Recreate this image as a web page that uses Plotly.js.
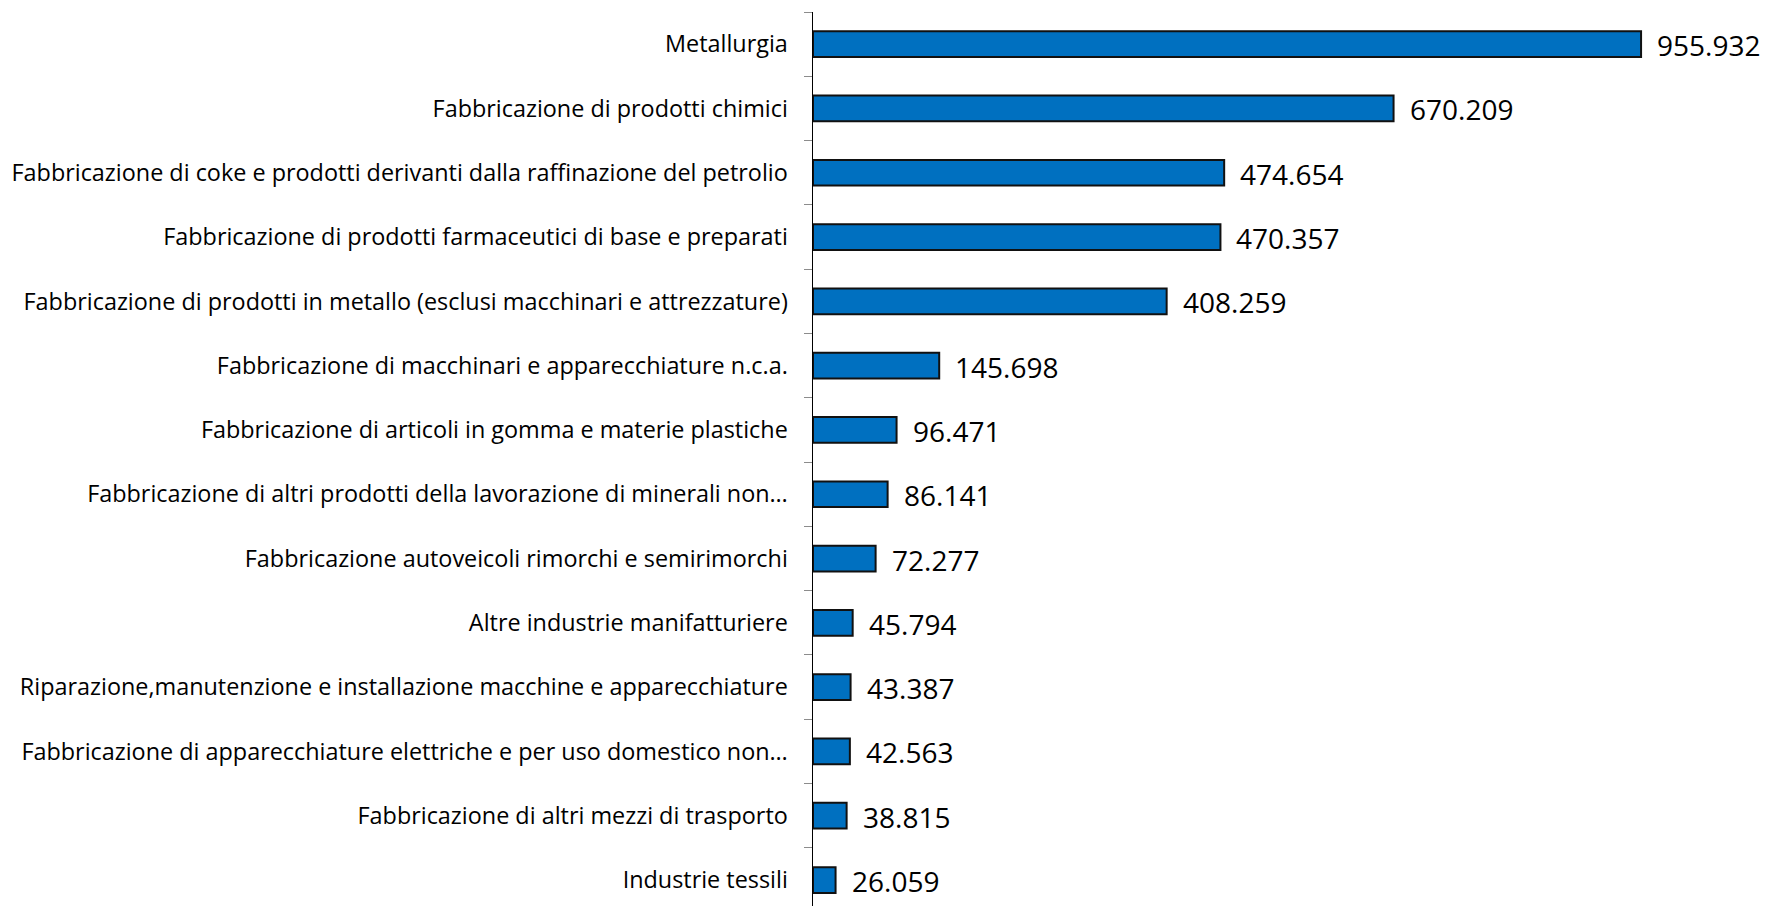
<!DOCTYPE html>
<html>
<head>
<meta charset="utf-8">
<script src="https://cdn.plot.ly/plotly-3.0.1.min.js"></script>
<style>html,body{margin:0;padding:0;background:#fff;}#chart{width:1765px;height:906px;}</style>
</head>
<body>
<div id="chart"></div>
<script>
const categories = [
  "Metallurgia",
  "Fabbricazione di prodotti chimici",
  "Fabbricazione di coke e prodotti derivanti dalla raffinazione del petrolio",
  "Fabbricazione di prodotti farmaceutici di base e preparati",
  "Fabbricazione di prodotti in metallo (esclusi macchinari e attrezzature)",
  "Fabbricazione di macchinari e apparecchiature n.c.a.",
  "Fabbricazione di articoli in gomma e materie plastiche",
  "Fabbricazione di altri prodotti della lavorazione di minerali non…",
  "Fabbricazione autoveicoli rimorchi e semirimorchi",
  "Altre industrie manifatturiere",
  "Riparazione,manutenzione e installazione macchine e apparecchiature",
  "Fabbricazione di apparecchiature elettriche e per uso domestico non…",
  "Fabbricazione di altri mezzi di trasporto",
  "Industrie tessili"
];
const values = [955932, 670209, 474654, 470357, 408259, 145698, 96471, 86141, 72277, 45794, 43387, 42563, 38815, 26059];

function fmt(v) {
  return String(v).replace(/\B(?=(\d{3})+(?!\d))/g, ".");
}

const trace = {
  type: "bar",
  orientation: "h",
  x: values,
  y: categories,
  marker: { color: "#0070C0", line: { color: "#111111", width: 2 } },
  hoverinfo: "none",
  cliponaxis: false
};

const annotations = values.map((v, i) => ({
  x: v,
  y: categories[i],
  xref: "x",
  yref: "y",
  text: fmt(v),
  showarrow: false,
  xanchor: "left",
  yanchor: "middle",
  xshift: 14,
  yshift: -1,
  font: { family: "Open Sans", size: 28, color: "#000000" }
}));

const layout = {
  width: 1765,
  height: 906,
  margin: { l: 813, r: 0, t: 12, b: 0 },
  paper_bgcolor: "#ffffff",
  plot_bgcolor: "#ffffff",
  showlegend: false,
  bargap: 0.6,
  xaxis: { range: [0, 1099000], visible: false, showgrid: false, zeroline: false, fixedrange: true },
  yaxis: {
    type: "category",
    range: [13.404, -0.5],
    tickson: "boundaries",
    ticks: "outside",
    ticklen: 8,
    tickwidth: 1,
    tickcolor: "#8c8c8c",
    showline: true,
    linecolor: "#000000",
    linewidth: 1.5,
    showgrid: false,
    zeroline: false,
    ticklabelstandoff: 19,
    tickfont: { family: "Open Sans", size: 23.4, color: "#000000" },
    fixedrange: true
  },
  annotations: annotations
};

Plotly.newPlot("chart", [trace], layout, { displayModeBar: false, staticPlot: true });
</script>
</body>
</html>
